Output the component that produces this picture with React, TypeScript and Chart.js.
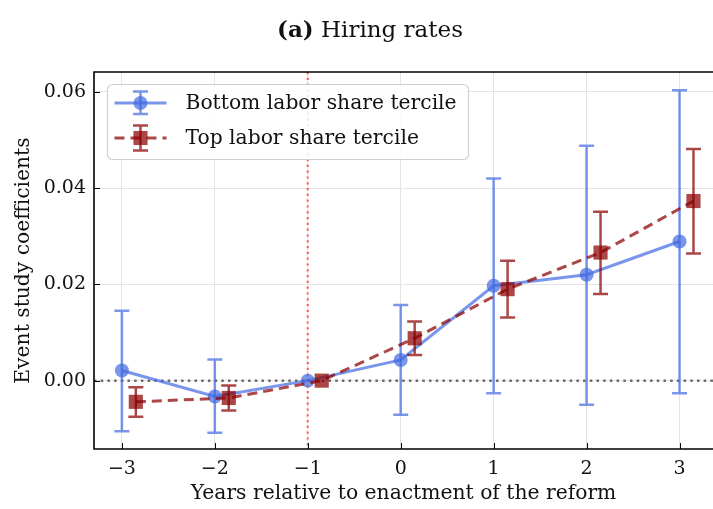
import { useEffect, useRef } from "react";
import { Chart, registerables } from "chart.js";

Chart.register(...registerables);

// ---- data ----
const YEARS = [-3, -2, -1, 0, 1, 2, 3];
const TOP_X_SHIFT = 0.15;

const BOTTOM_LABEL = "Bottom labor share tercile";
const BOTTOM_COEF = [0.0021, -0.0033, 0.0, 0.0043, 0.0197, 0.022, 0.0289];
const BOTTOM_LOW = [-0.0105, -0.0108, 0.0, -0.0071, -0.0026, -0.005, -0.0026];
const BOTTOM_HIGH = [0.0145, 0.0044, 0.0, 0.0157, 0.042, 0.0488, 0.0603];

const TOP_LABEL = "Top labor share tercile";
const TOP_COEF = [-0.0044, -0.0036, 0.0, 0.0088, 0.019, 0.0266, 0.0373];
const TOP_LOW = [-0.0075, -0.0062, 0.0, 0.0053, 0.0131, 0.018, 0.0264];
const TOP_HIGH = [-0.0014, -0.001, 0.0, 0.0123, 0.0249, 0.0351, 0.0481];

const X_TICKS = [-3, -2, -1, 0, 1, 2, 3];
const Y_TICKS = [0.0, 0.02, 0.04, 0.06];
const X_MIN = -3.3;
const X_MAX = 3.36;
const Y_MIN = -0.0142;
const Y_MAX = 0.0641;
const REFORM_LINE_X = -1;

const TITLE_BOLD = "(a)";
const TITLE_TEXT = "Hiring rates";
const X_TITLE = "Years relative to enactment of the reform";
const Y_TITLE = "Event study coefficients";

// ---- styles ----
const FONT = "'DejaVu Serif', serif";
const BLUE = "rgba(65,105,225,0.7)";
const RED = "rgba(139,0,0,0.72)";

const errorBarPlugin = {
  id: "errorBars",
  beforeDatasetDraw(chart: any, args: any) {
    const ds = chart.data.datasets[args.index];
    if (!ds.errLow) return;
    const { ctx } = chart;
    const xs = chart.scales.x;
    const ys = chart.scales.y;
    const cap = 7.5;
    ctx.save();
    ctx.strokeStyle = ds.borderColor;
    ctx.lineWidth = 2.5;
    ctx.setLineDash([]);
    ds.data.forEach((p: any, i: number) => {
      const lo = ds.errLow[i];
      const hi = ds.errHigh[i];
      if (lo === hi) return;
      const px = xs.getPixelForValue(p.x);
      const y1 = ys.getPixelForValue(lo);
      const y2 = ys.getPixelForValue(hi);
      ctx.beginPath();
      ctx.moveTo(px, y1);
      ctx.lineTo(px, y2);
      ctx.moveTo(px - cap, y1);
      ctx.lineTo(px + cap, y1);
      ctx.moveTo(px - cap, y2);
      ctx.lineTo(px + cap, y2);
      ctx.stroke();
    });
    ctx.restore();
  },
};

const refLinesPlugin = {
  id: "refLines",
  beforeDatasetsDraw(chart: any) {
    const { ctx, chartArea } = chart;
    const xs = chart.scales.x;
    const ys = chart.scales.y;
    ctx.save();
    // horizontal zero line
    const y0 = ys.getPixelForValue(0);
    ctx.strokeStyle = "rgba(50,50,50,0.7)";
    ctx.lineWidth = 2.5;
    ctx.setLineDash([2.5, 4.2]);
    ctx.beginPath();
    ctx.moveTo(chartArea.left, y0);
    ctx.lineTo(chartArea.right, y0);
    ctx.stroke();
    // vertical reform line
    const xr = xs.getPixelForValue(REFORM_LINE_X);
    ctx.strokeStyle = "rgba(245,60,60,0.75)";
    ctx.lineWidth = 2.2;
    ctx.setLineDash([2.2, 3.6]);
    ctx.beginPath();
    ctx.moveTo(xr, chartArea.top);
    ctx.lineTo(xr, chartArea.bottom);
    ctx.stroke();
    ctx.restore();
  },
};

const framePlugin = {
  id: "frame",
  afterDatasetsDraw(chart: any) {
    const { ctx, chartArea } = chart;
    const xs = chart.scales.x;
    const ys = chart.scales.y;
    const { left, right, top, bottom } = chartArea;
    ctx.save();
    ctx.strokeStyle = "#000";
    ctx.lineWidth = 1;
    ctx.setLineDash([]);
    // inward ticks
    ctx.beginPath();
    X_TICKS.forEach((v) => {
      const px = Math.round(xs.getPixelForValue(v)) + 0.5;
      ctx.moveTo(px, bottom);
      ctx.lineTo(px, bottom - 6);
    });
    Y_TICKS.forEach((v) => {
      const py = Math.round(ys.getPixelForValue(v)) + 0.5;
      ctx.moveTo(left, py);
      ctx.lineTo(left + 6, py);
    });
    ctx.stroke();
    // spines
    ctx.lineWidth = 1.6;
    ctx.beginPath();
    ctx.moveTo(right + 2, top);
    ctx.lineTo(left, top);
    ctx.lineTo(left, bottom);
    ctx.lineTo(right + 2, bottom);
    ctx.stroke();
    ctx.restore();
  },
};

const legendPlugin = {
  id: "innerLegend",
  afterDraw(chart: any) {
    const { ctx, chartArea } = chart;
    const bx = chartArea.left + 13.5;
    const by = chartArea.top + 12.5;
    const bw = 361;
    const bh = 75;
    ctx.save();
    ctx.beginPath();
    ctx.roundRect(bx, by, bw, bh, 5);
    ctx.fillStyle = "rgba(255,255,255,0.85)";
    ctx.fill();
    ctx.strokeStyle = "#d0d0d0";
    ctx.lineWidth = 1.2;
    ctx.stroke();

    const rows = [
      { ds: chart.data.datasets[0], cy: by + 18.5, up: 11.5, dn: 11 },
      { ds: chart.data.datasets[1], cy: by + 53.5, up: 12.5, dn: 12.5 },
    ];
    rows.forEach(({ ds, cy, up, dn }) => {
      const x0 = bx + 7;
      const x1 = bx + 59;
      const mx = bx + 33;
      ctx.strokeStyle = ds.borderColor;
      ctx.lineWidth = ds.borderWidth;
      ctx.setLineDash(ds.borderDash || []);
      ctx.beginPath();
      ctx.moveTo(x0, cy);
      ctx.lineTo(x1, cy);
      ctx.stroke();
      ctx.setLineDash([]);
      ctx.lineWidth = 2.5;
      ctx.beginPath();
      ctx.moveTo(mx, cy - up);
      ctx.lineTo(mx, cy + dn);
      ctx.moveTo(mx - 7.5, cy - up);
      ctx.lineTo(mx + 7.5, cy - up);
      ctx.moveTo(mx - 7.5, cy + dn);
      ctx.lineTo(mx + 7.5, cy + dn);
      ctx.stroke();
      ctx.fillStyle = ds.pointBackgroundColor;
      ctx.beginPath();
      if (ds.pointStyle === "rect") {
        const s = ds.pointRadius * Math.SQRT1_2;
        ctx.rect(mx - s, cy - s, 2 * s, 2 * s);
      } else {
        ctx.arc(mx, cy, ds.pointRadius, 0, Math.PI * 2);
      }
      ctx.fill();
      ctx.fillStyle = "#111";
      ctx.font = `20.3px ${FONT}`;
      ctx.textBaseline = "middle";
      ctx.textAlign = "left";
      ctx.fillText(ds.label, bx + 78, cy + 1);
    });
    ctx.restore();
  },
};

const fmtX = (v: number) => (v < 0 ? "\u2212" + Math.abs(v) : String(v));
const fmtY = (v: number) => (v < 0 ? "\u2212" : "") + Math.abs(v).toFixed(2);

export default function App() {
  const ref = useRef<HTMLCanvasElement | null>(null);

  useEffect(() => {
    if (!ref.current) return;
    const chart = new Chart(ref.current, {
      type: "line",
      data: {
        datasets: [
          {
            label: BOTTOM_LABEL,
            data: YEARS.map((x, i) => ({ x, y: BOTTOM_COEF[i] })),
            borderColor: BLUE,
            backgroundColor: BLUE,
            pointBackgroundColor: BLUE,
            pointBorderWidth: 0,
            pointRadius: 7,
            pointStyle: "circle",
            borderWidth: 3,
            order: 2,
            errLow: BOTTOM_LOW,
            errHigh: BOTTOM_HIGH,
          } as any,
          {
            label: TOP_LABEL,
            data: YEARS.map((x, i) => ({ x: x + TOP_X_SHIFT, y: TOP_COEF[i] })),
            borderColor: RED,
            backgroundColor: RED,
            pointBackgroundColor: RED,
            pointBorderWidth: 0,
            pointRadius: 10,
            pointStyle: "rect",
            borderWidth: 3,
            borderDash: [10, 6],
            order: 1,
            errLow: TOP_LOW,
            errHigh: TOP_HIGH,
          } as any,
        ],
      },
      options: {
        animation: false,
        responsive: false,
        devicePixelRatio: 1,
        layout: { autoPadding: false, padding: { top: 72, left: 0, right: 0, bottom: 0 } },
        plugins: {
          legend: { display: false },
          tooltip: { enabled: false },
          title: { display: false },
        },
        elements: { line: { tension: 0 } },
        scales: {
          x: {
            type: "linear",
            min: X_MIN,
            max: X_MAX,
            afterBuildTicks: (s: any) => {
              s.ticks = X_TICKS.map((v) => ({ value: v }));
            },
            afterFit: (s: any) => {
              s.height = 60;
              s.paddingLeft = 0;
              s.paddingRight = 0;
            },
            grid: { color: "#e4e4e4", lineWidth: 1, drawTicks: false },
            border: { display: false },
            ticks: {
              callback: (v: any) => fmtX(Number(v)),
              color: "#111",
              font: { family: FONT, size: 19 },
              padding: 9,
              maxRotation: 0,
            },
            title: {
              display: true,
              text: X_TITLE,
              color: "#111",
              font: { family: FONT, size: 20.3 },
              padding: { top: 0, bottom: 3 },
            },
          },
          y: {
            type: "linear",
            min: Y_MIN,
            max: Y_MAX,
            afterBuildTicks: (s: any) => {
              s.ticks = Y_TICKS.map((v) => ({ value: v }));
            },
            afterFit: (s: any) => {
              s.width = 94;
              s.paddingTop = 0;
              s.paddingBottom = 0;
            },
            grid: { color: "#e4e4e4", lineWidth: 1, drawTicks: false },
            border: { display: false },
            ticks: {
              callback: (v: any) => fmtY(Number(v)),
              color: "#111",
              font: { family: FONT, size: 19 },
              padding: 8,
            },
            title: {
              display: true,
              text: Y_TITLE,
              color: "#111",
              font: { family: FONT, size: 20.3 },
              padding: { top: 12, bottom: 0 },
            },
          },
        },
      },
      plugins: [refLinesPlugin, errorBarPlugin, framePlugin, legendPlugin],
    });
    return () => chart.destroy();
  }, []);

  return (
    <div
      style={{
        position: "fixed",
        left: 0,
        top: 0,
        width: 713,
        height: 509,
        overflow: "hidden",
        background: "#fff",
      }}
    >
      <canvas
        ref={ref}
        width={713}
        height={509}
        style={{ position: "absolute", left: 0, top: 0, width: 713, height: 509 }}
      />
      <div
        style={{
          position: "absolute",
          left: 277,
          top: 17,
          fontFamily: FONT,
          fontSize: 23,
          lineHeight: "23px",
          color: "#111",
          whiteSpace: "nowrap",
        }}
      >
        <span style={{ fontWeight: "bold" }}>{TITLE_BOLD}</span> {TITLE_TEXT}
      </div>
    </div>
  );
}
